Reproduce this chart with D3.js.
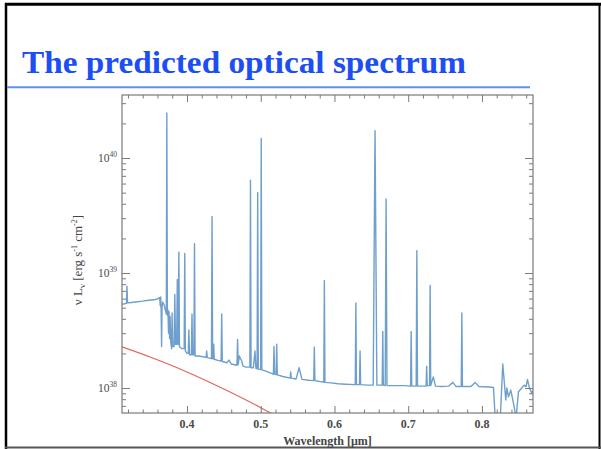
<!DOCTYPE html>
<html><head><meta charset="utf-8">
<script src="https://cdn.jsdelivr.net/npm/d3@7"></script>
<style>html,body{margin:0;padding:0;background:#fff;} svg{display:block;}</style>
</head><body>
<svg id="c" width="601" height="449"></svg>
<script>
// ---------- data ----------
const titleText = "The predicted optical spectrum";
const xLabelText = "Wavelength [μm]";
const xMajorTicks = [0.4, 0.5, 0.6, 0.7, 0.8];
const yMajorExponents = [38, 39, 40];

// model spectrum (wavelength in micron, nu L_nu in erg/s)
const specWave = [
0.3119,0.3150,0.3180,0.3186,0.3194,0.3250,0.3300,0.3400,0.3480,0.3550,0.3600,0.3630,0.3638,0.3644,0.3650,0.3656,0.3662,0.3670,0.3690,0.3712,
0.3720,0.3727,0.3734,0.3742,0.3750,0.3757,0.3764,0.3771,0.3780,0.3792,0.3798,0.3806,0.3825,0.3835,0.3845,0.3860,0.3869,0.3878,0.3882,0.3890,
0.3898,0.3930,0.3962,0.3970,0.3978,0.4000,0.4018,0.4026,0.4034,0.4060,0.4068,0.4076,0.4094,0.4102,0.4110,0.4150,0.4200,0.4260,0.4267,0.4275,
0.4332,0.4340,0.4348,0.4356,0.4363,0.4370,0.4420,0.4463,0.4471,0.4479,0.4540,0.4570,0.4600,0.4678,0.4686,0.4694,0.4711,0.4725,0.4740,0.4760,
0.4800,0.4853,0.4861,0.4869,0.4900,0.4922,0.4935,0.4951,0.4959,0.4967,0.4999,0.5007,0.5015,0.5060,0.5120,0.5172,0.5180,0.5188,0.5209,0.5217,
0.5225,0.5300,0.5400,0.5407,0.5414,0.5480,0.5520,0.5560,0.5650,0.5719,0.5727,0.5735,0.5800,0.5855,0.5863,0.5871,0.5950,0.6050,0.6150,0.6282,
0.6290,0.6298,0.6339,0.6347,0.6355,0.6450,0.6525,0.6550,0.6575,0.6647,0.6655,0.6663,0.6688,0.6700,0.6712,0.6800,0.6950,0.7032,0.7040,0.7048,
0.7108,0.7117,0.7126,0.7200,0.7242,0.7250,0.7258,0.7289,0.7297,0.7305,0.7340,0.7370,0.7450,0.7550,0.7605,0.7650,0.7719,0.7727,0.7735,0.7850,
0.7908,0.7960,0.8100,0.8156,0.8183,0.8246,0.8282,0.8323,0.8337,0.8359,0.8391,0.8427,0.8463,0.8495,0.8540,0.8572,0.8599,0.8617,0.8644,0.8676,0.8692
];
const specLum = [
5.35e38,5.4e38,5.45e38,7.7e38,5.5e38,5.55e38,5.6e38,5.7e38,5.8e38,5.85e38,5.95e38,6.1e38,5.2e38,6.2e38,4.6e38,2.3e38,5.0e38,5.6e38,5.3e38,4.6e38,
4.4e38,2.46e40,4.3e38,4.8e38,3.0e38,4.6e38,2.7e38,4.2e38,2.5e38,2.2e38,4.5e38,2.3e38,2.3e38,6.5e38,2.4e38,2.4e38,8.8e38,2.4e38,2.4e38,1.52e39,
2.3e38,2.2e38,2.2e38,1.48e39,2.1e38,2.0e38,2.0e38,3.2e38,1.95e38,1.95e38,4.4e38,1.95e38,1.95e38,1.8e39,1.9e38,1.9e38,1.88e38,1.85e38,2.1e38,1.84e38,
1.8e38,3.1e39,1.8e38,1.8e38,2.4e38,1.78e38,1.74e38,1.72e38,4.4e38,1.7e38,1.66e38,1.75e38,1.62e38,1.58e38,2.65e38,1.6e38,1.9e38,1.8e38,1.75e38,1.55e38,
1.52e38,1.52e38,6.4e39,1.5e38,1.5e38,2.1e38,1.48e38,1.48e38,5.0e39,1.46e38,1.45e38,1.48e40,1.44e38,1.41e38,1.36e38,1.32e38,2.3e38,1.32e38,1.31e38,2.4e38,
1.3e38,1.26e38,1.22e38,1.38e38,1.22e38,1.2e38,1.5e38,1.19e38,1.17e38,1.16e38,2.26e38,1.16e38,1.14e38,1.13e38,8.6e38,1.12e38,1.11e38,1.09e38,1.08e38,1.07e38,
5.5e38,1.07e38,1.07e38,2.1e38,1.07e38,1.06e38,1.06e38,1.73e40,1.06e38,1.06e38,3.1e38,1.06e38,1.05e38,4.4e39,1.05e38,1.05e38,1.05e38,1.04e38,3.1e38,1.04e38,
1.04e38,1.56e39,1.04e38,1.04e38,1.04e38,1.55e38,1.05e38,1.05e38,7.8e38,1.05e38,1.25e38,1.04e38,1.03e38,1.04e38,1.12e38,1.03e38,1.03e38,4.5e38,1.03e38,1.03e38,
1.12e38,1.03e38,1.02e38,1.01e38,0.5e38,0.5e38,1.62e38,0.79e38,1.0e38,0.84e38,0.96e38,0.74e38,0.55e38,0.93e38,1.0e38,1.06e38,1.03e38,1.19e38,1.0e38,0.9e38,0.95e38
];

// second (red) curve
const redWave = [0.3119, 0.3500, 0.4000, 0.4500, 0.5000, 0.5200, 0.5300];
const redLum  = [2.28e38, 1.86e38, 1.38e38, 0.98e38, 0.675e38, 0.575e38, 0.53e38];

// ---------- layout ----------
const svg = d3.select("#c");
const plot = {left: 122, top: 95, right: 533, bottom: 413};

// slide border
svg.append("line").attr("x1",6).attr("x2",6).attr("y1",3).attr("y2",449).attr("stroke","#000").attr("stroke-width",2.5);
svg.append("line").attr("x1",5).attr("x2",601).attr("y1",4.2).attr("y2",4.2).attr("stroke","#000").attr("stroke-width",3);
svg.append("line").attr("x1",599.5).attr("x2",599.5).attr("y1",3).attr("y2",449).attr("stroke","#000").attr("stroke-width",2);
svg.append("line").attr("x1",5).attr("x2",601).attr("y1",447.5).attr("y2",447.5).attr("stroke","#555").attr("stroke-width",2);

// title
svg.append("text").attr("x",22).attr("y",73)
  .attr("font-family","'Liberation Serif','Times New Roman',serif").attr("font-weight","bold")
  .attr("font-size",32).attr("fill","#1d4ef2")
  .attr("textLength",444).attr("lengthAdjust","spacingAndGlyphs")
  .text(titleText);
svg.append("line").attr("x1",7).attr("x2",530).attr("y1",87.3).attr("y2",87.3)
  .attr("stroke","#5f90ef").attr("stroke-width",2);

// scales
const x = d3.scaleLinear().domain([0.3119, 0.8692]).range([plot.left, plot.right]);
const y = d3.scaleLog().domain([Math.pow(10,37.783), Math.pow(10,40.548)]).range([plot.bottom, plot.top]);

// clip
svg.append("clipPath").attr("id","clip").append("rect")
  .attr("x",plot.left).attr("y",plot.top).attr("width",plot.right-plot.left).attr("height",plot.bottom-plot.top);

const g = svg.append("g").attr("clip-path","url(#clip)");
const spec = specWave.map((w,i)=>[w, specLum[i]]);
const red = redWave.map((w,i)=>[w, redLum[i]]);

g.append("path").datum(red)
  .attr("d", d3.line().x(d=>x(d[0])).y(d=>y(d[1])).curve(d3.curveMonotoneX))
  .attr("fill","none").attr("stroke","#e0645e").attr("stroke-width",1.2);

g.append("path").datum(spec)
  .attr("d", d3.line().x(d=>x(d[0])).y(d=>y(d[1])))
  .attr("fill","none").attr("stroke","#6f9fcc").attr("stroke-width",1.4).attr("stroke-linejoin","round");

// axes
const axisColor = "#7a7a7a";
const xMinor = d3.range(0.32, 0.87, 0.02).filter(v => xMajorTicks.every(m => Math.abs(m-v) > 1e-6));
const yMajor = yMajorExponents.map(e => Math.pow(10,e));
const yMinor = [];
[37,38,39,40].forEach(e => { for (let k=2;k<=9;k++){ const v=k*Math.pow(10,e); if (v>y.domain()[0] && v<y.domain()[1]) yMinor.push(v);} });

function addAxis(gen, tx, ty, vals, size) {
  const a = svg.append("g").attr("transform",`translate(${tx},${ty})`)
    .call(gen.tickValues(vals).tickSize(size).tickFormat(""));
  a.select(".domain").remove();
  a.selectAll("line").attr("stroke",axisColor).attr("stroke-width",1);
  return a;
}
addAxis(d3.axisBottom(x), 0, plot.bottom, xMajorTicks, -7);
addAxis(d3.axisBottom(x), 0, plot.bottom, xMinor, -3.5);
addAxis(d3.axisTop(x), 0, plot.top, xMajorTicks, -7);
addAxis(d3.axisTop(x), 0, plot.top, xMinor, -3.5);
addAxis(d3.axisLeft(y), plot.left, 0, yMajor, -8);
addAxis(d3.axisLeft(y), plot.left, 0, yMinor, -4);
addAxis(d3.axisRight(y), plot.right, 0, yMajor, -8);
addAxis(d3.axisRight(y), plot.right, 0, yMinor, -4);

svg.append("rect").attr("x",plot.left).attr("y",plot.top)
  .attr("width",plot.right-plot.left).attr("height",plot.bottom-plot.top)
  .attr("fill","none").attr("stroke",axisColor).attr("stroke-width",1.2);

// x tick labels
const serif = "'Liberation Serif','Times New Roman',serif";
svg.append("g").selectAll("text").data(xMajorTicks).join("text")
  .attr("x", d=>x(d)).attr("y", 428).attr("text-anchor","middle")
  .attr("font-family",serif).attr("font-weight","bold").attr("font-size",12).attr("fill","#4a4a4a")
  .text(d=>d3.format(".1f")(d));

// y tick labels
const yl = svg.append("g").selectAll("text").data(yMajorExponents).join("text")
  .attr("x", 117).attr("y", d=>y(Math.pow(10,d))+4).attr("text-anchor","end")
  .attr("font-family",serif).attr("font-size",11.5).attr("fill","#4a4a4a");
yl.append("tspan").text("10");
yl.append("tspan").attr("dy",-5).attr("font-size",7.5).text(d=>d);

// axis titles
svg.append("text").attr("x", (plot.left+plot.right)/2).attr("y", 445).attr("text-anchor","middle")
  .attr("font-family",serif).attr("font-weight","bold").attr("font-size",12).attr("fill","#444")
  .text(xLabelText);

const yt = svg.append("text").attr("transform","translate(82,260) rotate(-90)").attr("text-anchor","middle")
  .attr("font-family",serif).attr("font-size",13).attr("fill","#444");
yt.append("tspan").text("ν L");
yt.append("tspan").attr("dy",3).attr("font-size",9).text("ν");
yt.append("tspan").attr("dy",-3).text(" [erg s");
yt.append("tspan").attr("dy",-5).attr("font-size",8).text("-1");
yt.append("tspan").attr("dy",5).text(" cm");
yt.append("tspan").attr("dy",-5).attr("font-size",8).text("-2");
yt.append("tspan").attr("dy",5).text("]");
</script>
</body></html>
